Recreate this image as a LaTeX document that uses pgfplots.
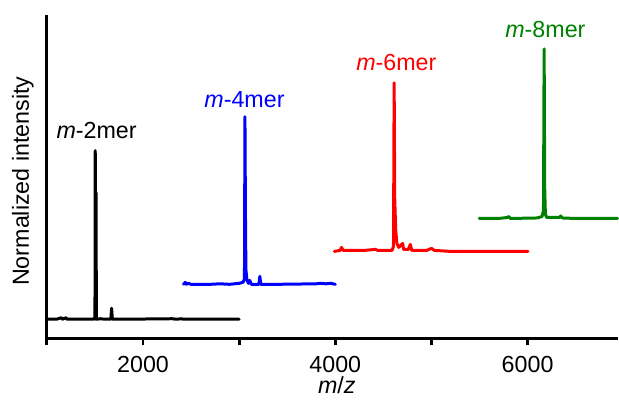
\documentclass[border=0pt]{standalone}
\usepackage{fontspec}
\setmainfont{Liberation Sans}
\usepackage{pgfplots}
\pgfplotsset{compat=1.18}
\definecolor{mygreen}{RGB}{0,128,0}
\begin{document}
\begin{tikzpicture}[font=\fontsize{11.7}{14}\selectfont]
\begin{axis}[
 name=ax,
 scale only axis,
 width=286bp, height=162bp,
 xmin=1000, xmax=6935, ymin=0, ymax=324,
 axis x line*=bottom, axis y line*=left,
 axis line style={line width=1.4bp},
 xtick={1000,2000,3000,4000,5000,6000},
 xticklabels={,2000,,4000,,6000},
 ytick=\empty,
 tick align=outside,
 major tick length=3.2bp,
 every tick/.style={black, line width=1.4bp},
 tick label style={font=\fontsize{11.7}{14}\selectfont},
 xticklabel style={yshift=-2.5bp},
 label style={font=\fontsize{11.7}{14}\selectfont},
 xlabel={\textit{m}/\textit{z}},
 ylabel={Normalized intensity},
 xlabel style={at={(axis description cs:0.508,-0.145)}, anchor=center},
 ylabel style={at={(axis description cs:-0.042,0.486)}, anchor=center},
 clip=false,
 every axis plot/.append style={line join=round, line cap=round},
]
\addplot[black, line width=1.5bp] coordinates {
(1000,19)(1100,19)(1150,20.5)(1160,19)(1200,20.5)(1210,19)(1400,19)(1480,19)(1495,20)
(1500,19)(1503,188)(1507,60)(1511,146)(1515,19)(1560,19.5)(1600,19)(1665,19)
(1673,30)(1681,19)(1800,19)(2300,19.5)(2350,19)(2400,19.5)(2420,19)(3000,19)};
\addplot[blue, line width=1.5bp] coordinates {
(2420,54)(2440,56)(2450,54)(2470,55)(2500,54)(2700,54)(2800,54.5)(2900,54)(3000,55)
(3040,56)(3055,59)(3060,222)(3065,129)(3070,69)(3080,59)(3095,55)(3110,58)(3125,54)
(3205,54)(3215,62)(3225,54)(3400,54)(3800,54.5)(3850,55)(3900,54.5)(3950,55)(4000,54)};
\addplot[red, line width=1.5bp] coordinates {
(3990,87)(4050,88)(4065,91)(4080,88)(4300,88)(4420,89)(4440,88)(4590,88)(4605,92)
(4612,256)(4618,140)(4628,109)(4640,95)(4660,91)(4700,95)(4710,89)(4760,89)(4780,94)
(4795,88)(4950,88)(5000,90)(5030,88)(5200,87)(6005,87)};
\addplot[mygreen, line width=1.5bp] coordinates {
(5497,120)(5700,120)(5790,121)(5805,122)(5820,120)(6100,120.5)(6150,122)(6165,128)
(6172,290)(6178,150)(6185,124)(6200,121)(6330,121)(6345,122.5)(6360,120.5)(6500,120)(6935,120)};
\node[text=black] at (axis cs:1517,208) {\textit{m}-2mer};
\node[text=blue] at (axis cs:3055,239) {\textit{m}-4mer};
\node[text=red] at (axis cs:4635,276) {\textit{m}-6mer};
\node[text=mygreen] at (axis cs:6185,309) {\textit{m}-8mer};
\end{axis}
\path (ax.south west) ++(-23.5bp,-30bp) rectangle ++(309.5bp,199.5bp);
\end{tikzpicture}
\end{document}
